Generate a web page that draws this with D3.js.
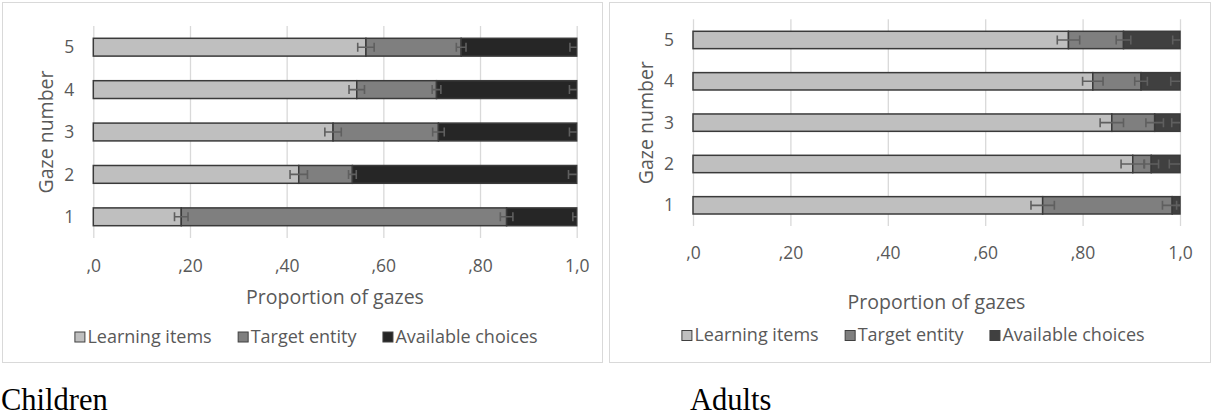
<!DOCTYPE html>
<html>
<head>
<meta charset="utf-8">
<script src="https://cdn.jsdelivr.net/npm/d3@7"></script>
<style>
  html, body { margin: 0; padding: 0; background: #ffffff; }
  svg { display: block; }
  text { font-family: "Open Sans", "Noto Sans", sans-serif; }
</style>
</head>
<body>
<svg id="chart" width="1212" height="416"></svg>
<script>
// ---------------- DATA ----------------
const categories = ["1", "2", "3", "4", "5"];
const seriesNames = ["Learning items", "Target entity", "Available choices"];
const xTickValues = [0, 0.2, 0.4, 0.6, 0.8, 1.0];
const xTickLabels = [",0", ",20", ",40", ",60", ",80", "1,0"];
const xAxisTitle = "Proportion of gazes";
const yAxisTitle = "Gaze number";
const panelCaptions = ["Children", "Adults"];

// Children
const childLearning  = [0.182, 0.425, 0.496, 0.545, 0.564];
const childTarget    = [0.673, 0.111, 0.218, 0.165, 0.197];
const childAvailable = [0.145, 0.464, 0.286, 0.290, 0.239];
const childLearningErr  = [0.014, 0.018, 0.017, 0.016, 0.017];
const childTargetErr    = [0.013, 0.008, 0.012, 0.009, 0.010];
const childAvailableErr = [0.008, 0.017, 0.015, 0.015, 0.014];

// Adults
const adultLearning  = [0.718, 0.903, 0.860, 0.821, 0.771];
const adultTarget    = [0.266, 0.038, 0.088, 0.099, 0.113];
const adultAvailable = [0.016, 0.059, 0.052, 0.080, 0.116];
const adultLearningErr  = [0.024, 0.024, 0.024, 0.021, 0.023];
const adultTargetErr    = [0.020, 0.015, 0.018, 0.013, 0.015];
const adultAvailableErr = [0.007, 0.022, 0.017, 0.019, 0.015];

// ---------------- DRAWING ----------------
const svg = d3.select("#chart");
const textColor = "#595959";

function drawPanel(cfg) {
  const g = svg.append("g");

  // panel border
  g.append("rect")
    .attr("x", cfg.box[0] + 0.5).attr("y", cfg.box[1] + 0.5)
    .attr("width", cfg.box[2] - cfg.box[0]).attr("height", cfg.box[3] - cfg.box[1])
    .attr("fill", "#ffffff").attr("stroke", "#d9d9d9").attr("stroke-width", 1);

  const x = d3.scaleLinear().domain([0, 1]).range([cfg.plot.left, cfg.plot.right]);
  const y = d3.scaleBand().domain(categories)
    .range([cfg.plot.bottom, cfg.plot.top])
    .paddingInner(0.58).paddingOuter(0.29);

  // gridlines
  const grid = g.append("g")
    .attr("transform", `translate(0,${cfg.plot.bottom})`)
    .call(d3.axisBottom(x).tickValues(xTickValues)
      .tickSize(-(cfg.plot.bottom - cfg.plot.top)).tickFormat(""));
  grid.select(".domain").remove();
  grid.selectAll("line").attr("stroke", "#d9d9d9").attr("stroke-width", 1.3);

  // x tick labels
  const xa = g.append("g")
    .attr("transform", `translate(0,${cfg.tickY})`)
    .call(d3.axisBottom(x).tickValues(xTickValues).tickSize(0)
      .tickFormat((d, i) => xTickLabels[i]));
  xa.select(".domain").remove();
  xa.selectAll("text").attr("fill", textColor)
    .style("font-size", "17.5px").attr("dy", "0.35em").attr("y", 0);

  // y tick labels
  const ya = g.append("g")
    .attr("transform", `translate(${cfg.plot.left - 19},0)`)
    .call(d3.axisLeft(y).tickSize(0));
  ya.select(".domain").remove();
  ya.selectAll("text").attr("fill", textColor)
    .style("font-size", "17.5px").attr("x", 0).attr("dy", "0.35em");

  // axis titles
  g.append("text")
    .attr("x", (cfg.plot.left + cfg.plot.right) / 2).attr("y", cfg.titleY)
    .attr("dy", "0.35em").attr("text-anchor", "middle")
    .attr("fill", textColor).style("font-size", "19.5px").text(xAxisTitle);
  g.append("text")
    .attr("transform", `translate(${cfg.plot.left - 47},${(cfg.plot.top + cfg.plot.bottom) / 2}) rotate(-90)`)
    .attr("dy", "0.35em").attr("text-anchor", "middle")
    .attr("fill", textColor).style("font-size", "19.5px").text(yAxisTitle);

  // stacked bars
  const values = cfg.series;
  const rows = categories.map((c, i) => {
    const r = { cat: c };
    seriesNames.forEach((s, k) => { r[s] = values[k][i]; });
    return r;
  });
  const stacked = d3.stack().keys(seriesNames)(rows);

  const bars = g.append("g");
  stacked.forEach((layer, k) => {
    bars.selectAll(null).data(layer).enter().append("rect")
      .attr("x", d => x(d[0]))
      .attr("y", d => y(d.data.cat))
      .attr("width", d => x(d[1]) - x(d[0]))
      .attr("height", y.bandwidth())
      .attr("fill", cfg.colors[k])
      .attr("stroke", "#3a3a3a").attr("stroke-width", 1.5);
  });

  // error bars (clipped at plot area)
  const clipId = "clip" + cfg.id;
  svg.append("clipPath").attr("id", clipId).append("rect")
    .attr("x", cfg.plot.left - 20).attr("y", cfg.plot.top)
    .attr("width", cfg.plot.right - cfg.plot.left + 20)
    .attr("height", cfg.plot.bottom - cfg.plot.top);
  const eb = g.append("g").attr("clip-path", `url(#${clipId})`)
    .attr("stroke", "#5f5f5f").attr("stroke-width", 1.6).attr("fill", "none");
  const capH = 4.5;
  stacked.forEach((layer, k) => {
    layer.forEach((d, i) => {
      const e = cfg.errors[k][i];
      const cy = y(d.data.cat) + y.bandwidth() / 2;
      const x1 = x(d[1] - e), x2 = x(d[1] + e);
      eb.append("line").attr("x1", x1).attr("x2", x2).attr("y1", cy).attr("y2", cy);
      eb.append("line").attr("x1", x1).attr("x2", x1).attr("y1", cy - capH).attr("y2", cy + capH);
      eb.append("line").attr("x1", x2).attr("x2", x2).attr("y1", cy - capH).attr("y2", cy + capH);
    });
  });

  // legend
  const leg = g.append("g");
  const items = seriesNames.map((s, k) => {
    const it = leg.append("g");
    it.append("rect").attr("x", 0.5).attr("y", -4.5).attr("width", 10).attr("height", 10)
      .attr("fill", cfg.colors[k]).attr("stroke", "#404040").attr("stroke-width", 1);
    const t = it.append("text").attr("x", 13).attr("y", 0).attr("dy", "0.35em")
      .attr("fill", textColor).style("font-size", "18px").text(s);
    return { g: it, w: 13 + t.node().getComputedTextLength() };
  });
  const gap = 26;
  const total = d3.sum(items, d => d.w) + gap * (items.length - 1);
  let cx = cfg.legendCenter - total / 2;
  items.forEach(it => {
    it.g.attr("transform", `translate(${cx},${cfg.legendY})`);
    cx += it.w + gap;
  });

  // caption under panel
  svg.append("text")
    .attr("x", cfg.captionX).attr("y", 410)
    .style("font-family", "'Liberation Serif', 'Times New Roman', serif")
    .style("font-size", "30.5px").attr("fill", "#000000")
    .text(cfg.caption);
}

drawPanel({
  id: "children",
  box: [2, 2, 602, 362],
  plot: { left: 93.3, right: 576.7, top: 26, bottom: 238 },
  tickY: 266,
  titleY: 297,
  legendY: 336.5,
  legendCenter: 306,
  series: [childLearning, childTarget, childAvailable],
  errors: [childLearningErr, childTargetErr, childAvailableErr],
  colors: ["#bfbfbf", "#7f7f7f", "#262626"],
  caption: panelCaptions[0],
  captionX: 1
});

drawPanel({
  id: "adults",
  box: [609, 2, 1210, 362],
  plot: { left: 693, right: 1180, top: 19.3, bottom: 226 },
  tickY: 253,
  titleY: 302.5,
  legendY: 335,
  legendCenter: 913,
  series: [adultLearning, adultTarget, adultAvailable],
  errors: [adultLearningErr, adultTargetErr, adultAvailableErr],
  colors: ["#bfbfbf", "#7f7f7f", "#404040"],
  caption: panelCaptions[1],
  captionX: 690
});
</script>
</body>
</html>
